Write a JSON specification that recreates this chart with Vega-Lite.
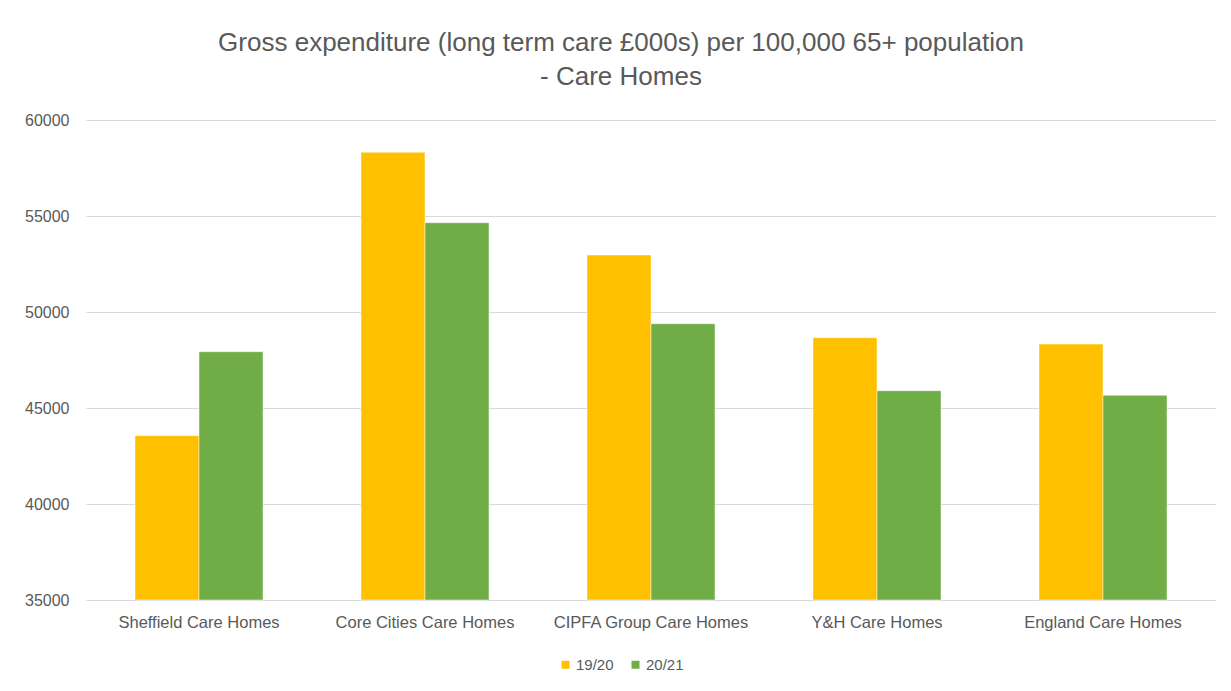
{
  "$schema": "https://vega.github.io/schema/vega-lite/v6.json",
  "width": 1130,
  "height": 480,
  "autosize": {"type": "none"},
  "padding": {"left": 86, "top": 120, "right": 15, "bottom": 91},
  "background": "white",
  "title": {
    "text": ["Gross expenditure (long term care £000s) per 100,000 65+ population", "- Care Homes"],
    "font": "Liberation Sans",
    "fontSize": 26,
    "fontWeight": "normal",
    "color": "#595959",
    "anchor": "middle",
    "dx": -30,
    "offset": 22,
    "lineHeight": 34
  },
  "data": {
    "values": [
      {"area": "Sheffield Care Homes", "year": "19/20", "value": 43560},
      {"area": "Sheffield Care Homes", "year": "20/21", "value": 47930},
      {"area": "Core Cities Care Homes", "year": "19/20", "value": 58320},
      {"area": "Core Cities Care Homes", "year": "20/21", "value": 54650},
      {"area": "CIPFA Group Care Homes", "year": "19/20", "value": 52970},
      {"area": "CIPFA Group Care Homes", "year": "20/21", "value": 49390},
      {"area": "Y&H Care Homes", "year": "19/20", "value": 48660},
      {"area": "Y&H Care Homes", "year": "20/21", "value": 45900},
      {"area": "England Care Homes", "year": "19/20", "value": 48330},
      {"area": "England Care Homes", "year": "20/21", "value": 45660}
    ]
  },
  "mark": {"type": "bar", "stroke": "#ffffff", "strokeWidth": 0.8, "strokeOpacity": 0.6},
  "encoding": {
    "x": {
      "field": "area",
      "type": "nominal",
      "sort": null,
      "scale": {"paddingInner": 0.4336, "paddingOuter": 0.2168},
      "axis": {
        "title": null,
        "labelAngle": 0,
        "domain": false,
        "ticks": false,
        "labelPadding": 14,
        "labelLimit": 400,
        "labelFont": "Liberation Sans",
        "labelFontSize": 16.5,
        "labelColor": "#595959"
      }
    },
    "xOffset": {"field": "year", "type": "nominal"},
    "y": {
      "field": "value",
      "type": "quantitative",
      "scale": {"domain": [35000, 60000], "zero": false, "nice": false},
      "axis": {
        "title": null,
        "values": [35000, 40000, 45000, 50000, 55000, 60000],
        "format": "d",
        "domain": false,
        "ticks": false,
        "labelPadding": 17,
        "labelFont": "Liberation Sans",
        "labelFontSize": 16,
        "labelColor": "#595959",
        "gridColor": "#d9d9d9",
        "gridWidth": 1
      }
    },
    "y2": {"datum": 35000},
    "color": {
      "field": "year",
      "type": "nominal",
      "scale": {"domain": ["19/20", "20/21"], "range": ["#FFC000", "#70AD47"]},
      "legend": {
        "title": null,
        "orient": "none",
        "direction": "horizontal",
        "legendX": 472,
        "legendY": 537,
        "symbolType": "square",
        "symbolSize": 64,
        "symbolStrokeWidth": 0,
        "labelFont": "Liberation Sans",
        "labelFontSize": 15,
        "labelColor": "#595959",
        "labelOffset": 3,
        "columnPadding": 14
      }
    }
  },
  "config": {
    "view": {"stroke": null}
  }
}
